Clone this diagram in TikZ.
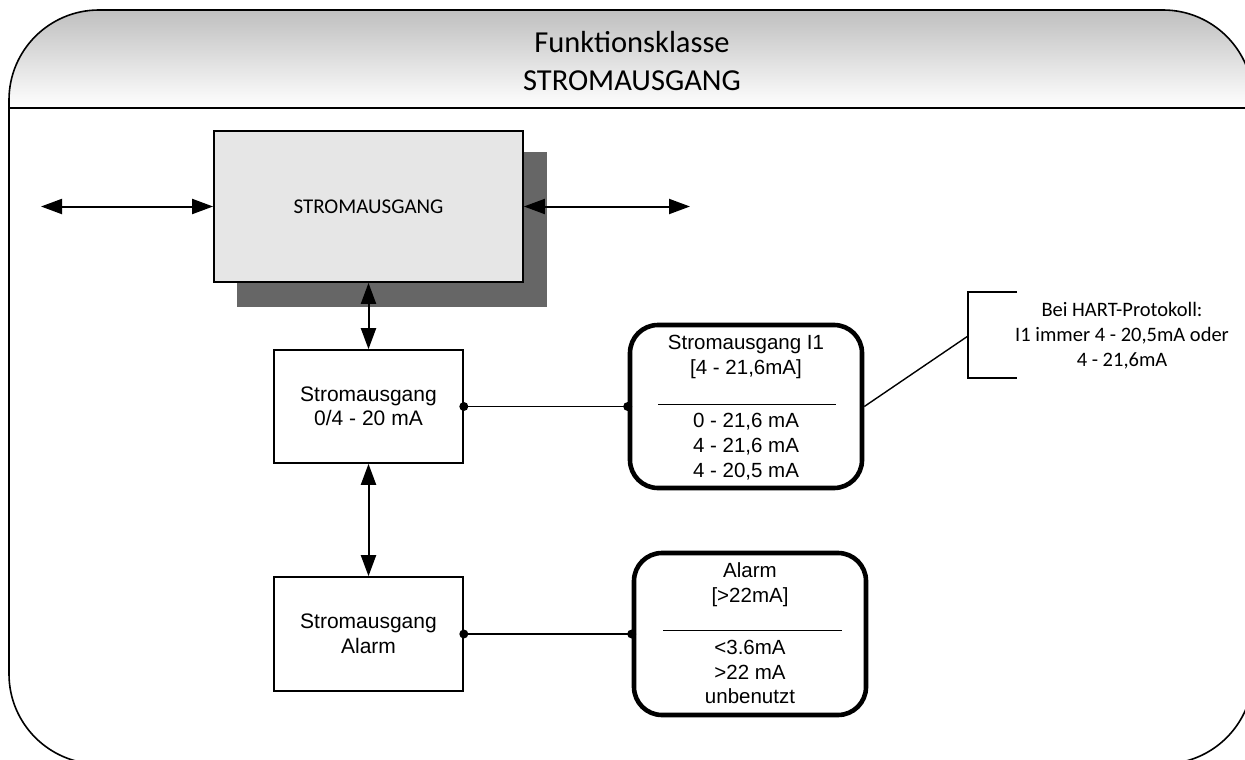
\documentclass[tikz,border=0pt]{standalone}
\usepackage{fontspec}
\setmainfont{Liberation Sans}
\newfontfamily\calib{Carlito}
\usetikzlibrary{arrows.meta}
\definecolor{hdrtop}{HTML}{BFBFBF}
\definecolor{boxgray}{HTML}{E6E6E6}
\definecolor{shadowgray}{HTML}{666666}
\begin{document}
\begin{tikzpicture}[x=1pt,y=-1pt,
  frameline/.style={line width=1.6pt},
  mainbox/.style={draw, line width=1.8pt, fill=boxgray, minimum width=309pt, minimum height=151pt, inner sep=0pt, font=\calib\fontsize{21}{25}\selectfont},
  plainbox/.style={draw, line width=1.6pt, fill=white, minimum width=189pt, minimum height=114pt, inner sep=0pt, align=center, font=\fontsize{21}{24.5}\selectfont},
  roundbox/.style={draw, line width=4.6pt, rounded corners=28pt, minimum width=232pt, minimum height=162pt, inner sep=0pt},
  boxtext/.style={align=center, inner sep=0pt, font=\fontsize{20.5}{25}\selectfont},
  notetext/.style={align=center, inner sep=0pt, font=\calib\fontsize{20.5}{25}\selectfont},
  dblarrow/.style={line width=2pt, {Triangle[length=21pt,width=15pt]}-{Triangle[length=21pt,width=15pt]}},
  link/.style={line width=1.8pt},
  rule/.style={line width=1pt},
  dot/.style={circle, fill=black, inner sep=0pt, minimum size=9pt}
]
\useasboundingbox (0,0) rectangle (1245,760);
% frame with shaded header
\begin{scope}
  \clip[rounded corners=90pt] (9,10) rectangle (1253,764);
  \shade[top color=hdrtop, bottom color=white] (9,10) rectangle (1253,108);
\end{scope}
\draw[frameline, rounded corners=90pt] (9,10) rectangle (1253,764);
\coordinate (hl) at (9,108);
\coordinate (hr) at (1253,108);
\draw[frameline] (hl) -- (hr);
\node[align=center, inner sep=0pt, font=\calib\fontsize{30.5}{38}\selectfont] (title) at (632,61) {Funktionsklasse\\STROMAUSGANG};

% main block with shadow
\fill[shadowgray] (237,152) rectangle (547,307);
\node[mainbox] (main) at (368.5,206.5) {STROMAUSGANG};
\coordinate (lfree) at (41,206.5);
\coordinate (rfree) at (690,206.5);
\draw[dblarrow] (lfree) -- (main.west);
\draw[dblarrow] (main.east) -- (rfree);

% function blocks
\node[plainbox, minimum height=113pt] (b2) at (368.5,406.5) {Stromausgang\\0/4 - 20 mA};
\node[plainbox] (b3) at (368.5,634) {Stromausgang\\Alarm};
\draw[dblarrow] (main.south) -- (b2.north);
\draw[dblarrow] (b2.south) -- (b3.north);

% parameter boxes
\node[roundbox, minimum height=163pt] (r1) at (746,406.5) {};
\node[boxtext] (r1top) at (746,357) {Stromausgang I1\\{[}4 - 21,6mA{]}};
\coordinate (r1rl) at (658,404);
\coordinate (r1rr) at (836,404);
\draw[rule] (r1rl) -- (r1rr);
\node[boxtext] (r1bot) at (746,447) {0 - 21,6 mA\\4 - 21,6 mA\\4 - 20,5 mA};

\node[roundbox] (r2) at (750,634) {};
\node[boxtext] (r2top) at (750,585) {Alarm\\{[}>22mA{]}};
\coordinate (r2rl) at (663,630.5);
\coordinate (r2rr) at (842,630.5);
\draw[rule] (r2rl) -- (r2rr);
\node[boxtext, font=\fontsize{20.5}{24.5}\selectfont] (r2bot) at (750,672) {<3.6mA\\>22 mA\\unbenutzt};

% connectors
\draw[link] (b2.east) -- (r1.west);
\draw[link] (b3.east) -- (r2.west);
\node[dot] (d1) at (b2.east) {};
\node[dot] (d2) at (r1.west) {};
\node[dot] (d3) at (b3.east) {};
\node[dot] (d4) at (r2.west) {};

% note
\coordinate (bt) at (1017,292);
\coordinate (btl) at (968,292);
\coordinate (bm) at (968,336);
\coordinate (bbl) at (968,378);
\coordinate (bb) at (1017,378);
\draw[link, line width=1.6pt] (bt) -- (btl) -- (bbl) -- (bb);
\draw[link, line width=1.4pt] (r1.east) -- (bm);
\node[notetext] (note) at (1122,336) {Bei HART-Protokoll:\\I1 immer 4 - 20,5mA oder\\4 - 21,6mA};
\end{tikzpicture}
\end{document}
